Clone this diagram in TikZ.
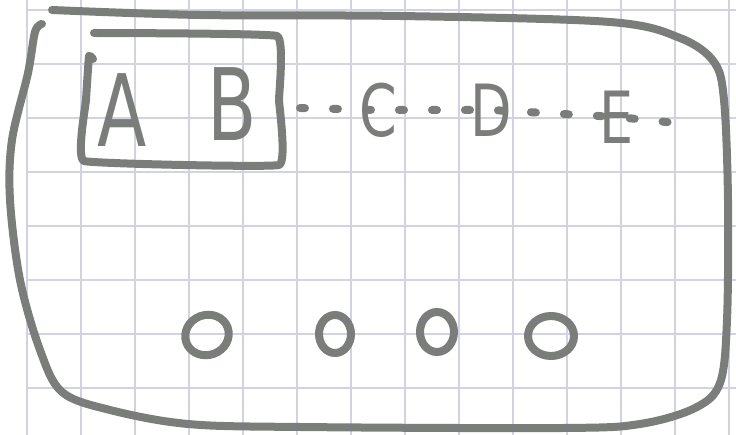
\documentclass[tikz,border=0pt]{standalone}
\usepackage{fontspec}
\setmainfont{DejaVu Sans}
\usetikzlibrary{shapes.geometric}

\definecolor{pen}{HTML}{7B7D7A}
\definecolor{paper}{HTML}{D2D2E0}

\tikzset{
  ink/.style={draw=pen, line width=8pt, line cap=round, line join=round},
  bigletter/.style={text=pen, inner sep=0pt, xscale=0.72, transform shape,
    font=\fontsize{100}{100}\selectfont},
  letter/.style={text=pen, inner sep=0pt, xscale=0.75, transform shape,
    font=\fontsize{72}{72}\selectfont},
  dotline/.style={draw=pen, line width=8pt, line cap=round,
    dash pattern=on 5pt off 28pt},
  ring/.style={ellipse, draw=pen, line width=8pt, inner sep=0pt}
}

\begin{document}
\begin{tikzpicture}[x=1pt,y=-1pt]

    \useasboundingbox (0,0) rectangle (736,435);

    % squared paper
    \foreach \gx in {27,81,...,729}
        \draw[paper, line width=1.1pt] (\gx,0) -- (\gx,435);
    \foreach \gy in {10,64,...,388}
        \draw[paper, line width=1.1pt] (27,\gy) -- (736,\gy);

    % outer frame
    \draw[ink] plot[smooth, tension=0.55] coordinates {
        (52,10) (200,15) (400,16) (610,22) (680,38) (714,62) (724,100)
        (728,200) (727,320) (720,383) (695,408) (640,424) (563,428)
        (300,427) (188,424) (110,410) (62,392) (40,350) (20,280)
        (10,200) (12,140) (28,73) (35,32) (42,24)};

    % box round A and B
    \draw[ink] plot[smooth, tension=0.15] coordinates {
        (94,33) (277,36) (279,100) (279,165) (84,161) (86,100) (89,56) (93,59)};
    \coordinate (box) at (280,108);

    % letters
    \node[bigletter] (A) at (122,110) {A};
    \node[bigletter] (B) at (232,104) {B};
    \node[letter] (C) at (378,110) {C};
    \node[letter] (D) at (491,110) {D};
    \node[letter] (E) at (617,117) {E};
    \coordinate (tail) at (686,124);

    % dotted run behind the letters
    \draw[dotline] (box) ++(20,0) -- (C.center) -- (D.center) -- (E.center) -- (tail);

    % row of rings
    \node[ring, minimum width=44pt, minimum height=40pt, rotate=20] (o1) at (207,335) {};
    \node[ring, minimum width=32pt, minimum height=38pt] (o2) at (335,334) {};
    \node[ring, minimum width=34pt, minimum height=40pt] (o3) at (437,332) {};
    \node[ring, minimum width=46pt, minimum height=40pt] (o4) at (551,336) {};

\end{tikzpicture}
\end{document}
